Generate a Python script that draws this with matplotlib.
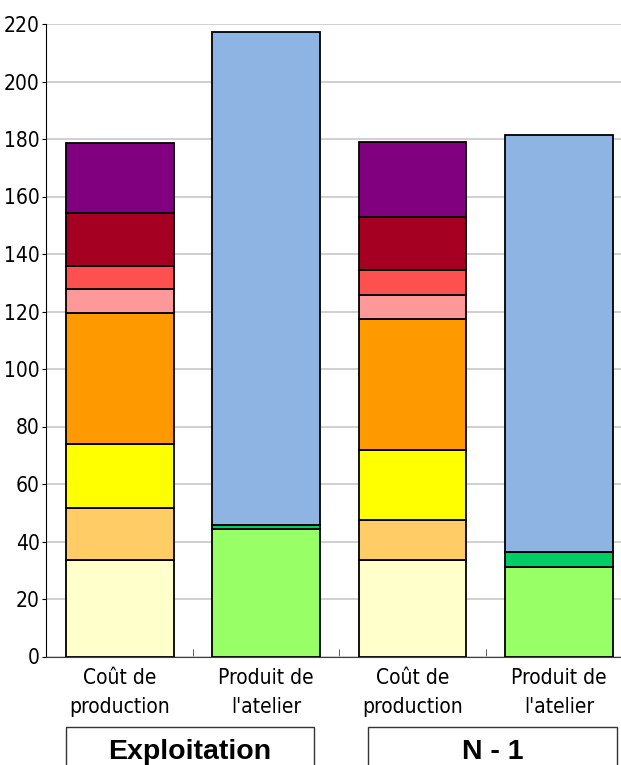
import matplotlib
matplotlib.use("Agg")
import matplotlib.pyplot as plt
from matplotlib import font_manager
from matplotlib.font_manager import FontProperties
from matplotlib.patches import Rectangle

# police étroite si disponible
narrow_file = None
for f in font_manager.fontManager.ttflist:
    if f.weight in (400, 'normal', 'regular') and f.style == 'normal' and (
            'Narrow' in f.name or 'Condensed' in f.name or
            f.stretch in ('condensed', 'semi-condensed', 'extra-condensed', 375, 500)):
        narrow_file = f.fname
        break

categories = ['Coût de\nproduction', "Produit de\nl'atelier", 'Coût de\nproduction', "Produit de\nl'atelier"]
groups = ['Exploitation', 'N - 1']

# segments empilés du coût de production (bas -> haut)
cost_colors = ['#FFFFCC', '#FFCC66', '#FFFF00', '#FF9900', '#FF9999', '#FF5050', '#A50021', '#800080']
cost_exploitation = [33.4, 18.4, 22.2, 45.4, 8.4, 8.2, 18.1, 24.5]
cost_n1 = [33.6, 14.0, 24.3, 45.4, 8.5, 8.7, 18.4, 25.9]

# segments empilés du produit de l'atelier
prod_colors = ['#99FF66', '#00CC66', '#8EB4E3']
prod_exploitation = [44.4, 1.2, 171.6]
prod_n1 = [31.2, 5.3, 144.9]

yticks = list(range(0, 221, 20))

if narrow_file:
    tick_font = FontProperties(fname=narrow_file, size=15)
    cat_font = FontProperties(fname=narrow_file, size=15)
else:
    tick_font = FontProperties(family='Liberation Sans', size=13.5)
    cat_font = FontProperties(family='Liberation Sans', size=13.5)

fig = plt.figure(figsize=(6.21, 7.65), dpi=100)
ax = fig.add_axes([46 / 621, 108.5 / 765, 586 / 621, 632.5 / 765])

width = 0.737
stacks = [(0, cost_exploitation, cost_colors), (1, prod_exploitation, prod_colors),
          (2, cost_n1, cost_colors), (3, prod_n1, prod_colors)]
for x, vals, cols in stacks:
    bottom = 0
    for v, c in zip(vals, cols):
        ax.bar(x, v, width=width, bottom=bottom, color=c, edgecolor='black', linewidth=1.3, zorder=3)
        bottom += v

ax.set_xlim(-0.505, 3.5)
ax.set_ylim(0, 220)
ax.set_yticks(yticks)
ax.set_yticklabels([str(t) for t in yticks], fontproperties=tick_font)
ax.yaxis.grid(True, color='#C8C8C8', linewidth=1.2, zorder=0)
ax.set_axisbelow(True)

ax.set_xticks(range(4))
ax.set_xticklabels(categories, fontproperties=cat_font, linespacing=1.6)
ax.tick_params(axis='x', which='major', length=0, pad=8)
ax.set_xticks([0.5, 1.5, 2.5], minor=True)
ax.tick_params(axis='x', which='minor', direction='in', length=6, color='#404040')
ax.tick_params(axis='y', direction='out', length=3, pad=1.5)

for s in ['top', 'right']:
    ax.spines[s].set_visible(False)
ax.spines['left'].set_color('black')
ax.spines['bottom'].set_color('#404040')

# cadres des groupes
box_x = [(66, 314), (368, 617)]
for (x0, x1), label in zip(box_x, groups):
    fig.add_artist(Rectangle((x0 / 621, -0.01), (x1 - x0) / 621, (765 - 727) / 765 + 0.01,
                             transform=fig.transFigure, facecolor='white', edgecolor='#333333',
                             linewidth=1.0))
    fig.text((x0 + x1) / 2 / 621, 1 - 759 / 765, label, ha='center', va='baseline',
             fontsize=20.5, fontweight='bold', family='Liberation Sans')

fig.savefig('out.png', dpi=100)
